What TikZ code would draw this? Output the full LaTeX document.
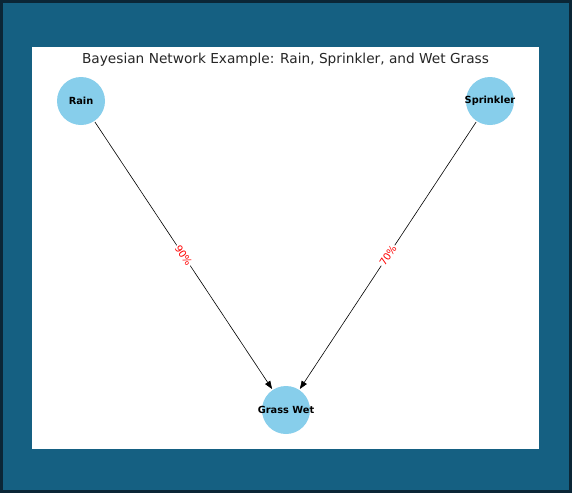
\documentclass[tikz,border=0pt]{standalone}
\usepackage{fontspec}
\setmainfont{DejaVu Sans}
\usetikzlibrary{arrows.meta}
\definecolor{frameblue}{HTML}{156082}
\definecolor{framedark}{HTML}{0B2636}
\definecolor{sky}{HTML}{87CEEB}
\tikzset{
  bnode/.style={circle, fill=sky, minimum size=48pt, inner sep=0pt},
  btext/.style={inner sep=0pt, font=\bfseries\fontsize{9.8}{11}\selectfont},
  bedge/.style={-{Triangle[length=8pt,width=6pt]}, black, line width=0.6pt, shorten >=1pt, shorten <=1pt},
  elabel/.style={fill=white, text=red, inner sep=1pt, font=\fontsize{10}{12}\selectfont, sloped}
}
\begin{document}
\begin{tikzpicture}[x=1pt,y=-1pt]
\useasboundingbox (0,0) rectangle (572,493);
\fill[framedark] (0,0) rectangle (572,493);
\fill[frameblue] (3,3) rectangle (569,490);
\fill[white] (32,47) rectangle (539,449);
\node[font=\fontsize{13.7}{16}\selectfont, text=black!85] (title) at (285.5,59.5) {Bayesian Network Example: Rain, Sprinkler, and Wet Grass};
\node[bnode] (rain) at (81,101) {};
\node[bnode] (spr) at (490,101) {};
\node[bnode] (wet) at (286,410) {};
\node[btext] (raint) at (rain) {Rain};
\node[btext] (sprt) at (spr) {Sprinkler};
\node[btext] (wett) at (wet) {Grass Wet};
\draw[bedge] (rain) -- node[elabel, allow upside down] {90\%} (wet);
\draw[bedge] (spr) -- node[elabel] {70\%} (wet);
\end{tikzpicture}
\end{document}
